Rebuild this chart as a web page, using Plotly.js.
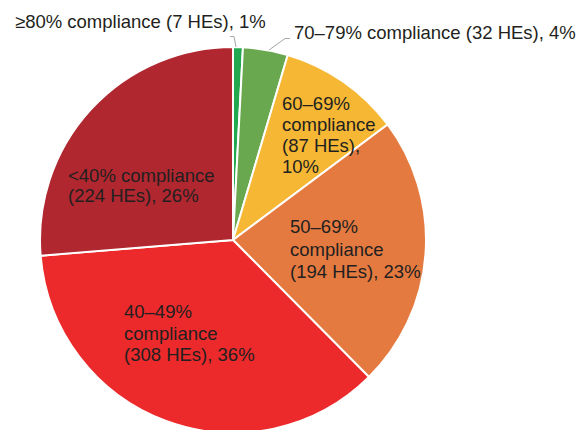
<!DOCTYPE html>
<html>
<head>
<meta charset="utf-8">
<script src="https://cdn.plot.ly/plotly-3.0.1.min.js"></script>
<style>
html,body{margin:0;padding:0;overflow:hidden;background:#fff;width:578px;height:430px;}
#chart{width:578px;height:440px;}
</style>
</head>
<body>
<div id="chart"></div>
<script>
// ---- data ----
var categories = ["≥80% compliance", "70–79% compliance", "60–69% compliance", "50–69% compliance", "40–49% compliance", "<40% compliance"];
var heCounts = [7, 32, 87, 194, 308, 224];
var percentLabels = ["1%", "4%", "10%", "23%", "36%", "26%"];
var sliceColors = ["#22a84e", "#6aa84f", "#f5b734", "#e47a40", "#ec2a2b", "#b0272f"];
var labelLines = [
  ["≥80% compliance (7 HEs), 1%"],
  ["70–79% compliance (32 HEs), 4%"],
  ["60–69%", "compliance", "(87 HEs),", "10%"],
  ["50–69%", "compliance", "(194 HEs), 23%"],
  ["40–49%", "compliance", "(308 HEs), 36%"],
  ["<40% compliance", "(224 HEs), 26%"]
];

// ---- layout helpers (pixels -> paper) ----
var W = 578, H = 440;
function px(x){ return x / W; }
function py(y){ return 1 - y / H; }

var cx = 233, cy = 240, R = 193;

// label anchor positions (left x, first-line centre y, line spacing)
var labelPos = [
  {x: 13, y: 21, dy: 0},
  {x: 292, y: 32, dy: 0},
  {x: 280, y: 103.5, dy: 21},
  {x: 288, y: 227, dy: 22},
  {x: 122, y: 311.5, dy: 21.7},
  {x: 66, y: 175, dy: 20.5}
];

var annotations = [];
labelLines.forEach(function(lines, i){
  var p = labelPos[i];
  lines.forEach(function(t, j){
    annotations.push({
      text: t, xref: "paper", yref: "paper",
      x: px(p.x), y: py(p.y + j * p.dy),
      xanchor: "left", yanchor: "middle", showarrow: false,
      font: {family: "Liberation Sans, Arial, sans-serif", size: 18.5, color: "#231f20"}
    });
  });
});

function pathFrom(pts){
  return pts.map(function(p, k){ return (k ? "L" : "M") + px(p[0]) + "," + py(p[1]); }).join(" ");
}
var shapes = [
  {type: "path", xref: "paper", yref: "paper", path: pathFrom([[230, 36.5], [234, 36.5], [236, 47]]), line: {color: "#a6a6a6", width: 1}},
  {type: "path", xref: "paper", yref: "paper", path: pathFrom([[269, 50], [285, 38.5], [290, 38.5]]), line: {color: "#a6a6a6", width: 1}}
];

var trace = {
  type: "pie",
  labels: categories,
  values: heCounts,
  customdata: percentLabels,
  sort: false,
  direction: "clockwise",
  rotation: 0,
  textinfo: "none",
  hovertemplate: "%{label}<br>%{value} HEs, %{customdata}<extra></extra>",
  marker: {colors: sliceColors, line: {color: "#ffffff", width: 2}},
  domain: {x: [px(cx - R), px(cx + R)], y: [py(cy + R), py(cy - R)]},
  showlegend: false
};

var layout = {
  width: W, height: H,
  margin: {l: 0, r: 0, t: 0, b: 0},
  paper_bgcolor: "#ffffff",
  showlegend: false,
  annotations: annotations,
  shapes: shapes
};

Plotly.newPlot("chart", [trace], layout, {displayModeBar: false, staticPlot: true});
</script>
</body>
</html>
